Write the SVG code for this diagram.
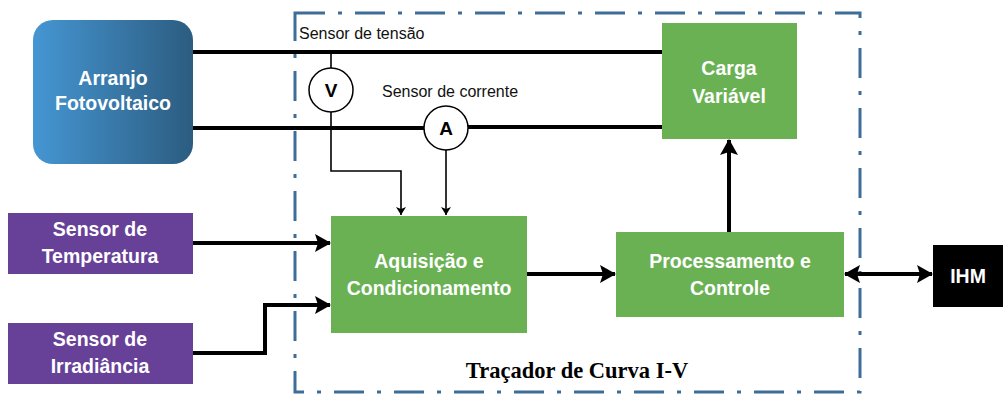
<svg xmlns="http://www.w3.org/2000/svg" width="1003" height="394" viewBox="0 0 1003 394">
<defs>
<linearGradient id="pvg" x1="0" y1="0" x2="1" y2="0">
<stop offset="0" stop-color="#4596d3"/>
<stop offset="1" stop-color="#2c5c80"/>
</linearGradient>
<marker id="ah" markerUnits="userSpaceOnUse" markerWidth="16" markerHeight="18" viewBox="0 0 16 18" refX="15" refY="9" orient="auto-start-reverse">
<path d="M0,0 L16,9 L0,18 L3,9 Z" fill="#000"/>
</marker>
<marker id="as" markerUnits="userSpaceOnUse" markerWidth="8" markerHeight="10" viewBox="0 0 8 10" refX="8" refY="5" orient="auto">
<path d="M0,0 L8,5 L0,10 L2,5 Z" fill="#000"/>
</marker>
</defs>
<style>
.lbl{font-family:"Liberation Sans",Arial,sans-serif;font-weight:bold;fill:#fff;font-size:19.5px;text-anchor:middle}
.sm{font-family:"Liberation Sans",Arial,sans-serif;font-size:16px;fill:#111}
.green{fill:#6ab154}
.purple{fill:#674198}
.thick{stroke:#000;stroke-width:4;fill:none}
.thin{stroke:#000;stroke-width:1.6;fill:none}
.meter{fill:#fff;stroke:#000;stroke-width:1.5}
.mtxt{font-family:"Liberation Sans",Arial,sans-serif;font-weight:bold;font-size:19px;fill:#000;text-anchor:middle}
</style>
<rect width="1003" height="394" fill="#fff"/>
<g id="boundary">
<rect x="295" y="13" width="565" height="379" fill="none" stroke="#3e6e98" stroke-width="3" stroke-dasharray="30 13 4 13"/>
<text x="577" y="378" font-family="'Liberation Serif','Times New Roman',serif" font-weight="bold" font-size="22.5" text-anchor="middle" fill="#000">Traçador de Curva I-V</text>
</g>
<g id="connectors">
<line class="thick" x1="193" y1="52" x2="662" y2="52"/>
<line class="thick" x1="193" y1="128" x2="425" y2="128"/>
<line class="thick" x1="468" y1="127" x2="662" y2="127"/>
<line class="thin" x1="331" y1="52" x2="331" y2="68"/>
<polyline class="thin" points="331,112 331,171 401,171 401,215" marker-end="url(#as)"/>
<line class="thin" x1="446" y1="150" x2="446" y2="215" marker-end="url(#as)"/>
<line class="thick" x1="193" y1="243" x2="330" y2="243" marker-end="url(#ah)"/>
<polyline class="thick" points="193,353 265,353 265,305 330,305" marker-end="url(#ah)"/>
<line class="thick" x1="527" y1="274" x2="615" y2="274" marker-end="url(#ah)"/>
<line class="thick" x1="729" y1="232" x2="729" y2="140" marker-end="url(#ah)"/>
<line class="thick" x1="845" y1="274" x2="932" y2="274" marker-start="url(#ah)" marker-end="url(#ah)"/>
</g>
<g id="arranjo">
<rect x="33" y="20" width="160" height="144" rx="20" fill="url(#pvg)"/>
<text class="lbl" x="113" y="85">Arranjo</text>
<text class="lbl" x="113" y="110">Fotovoltaico</text>
</g>
<g id="sensor-tensao">
<text class="sm" x="299" y="39">Sensor de tensão</text>
<circle class="meter" cx="331" cy="90" r="22"/>
<text class="mtxt" x="331" y="97">V</text>
</g>
<g id="sensor-corrente">
<text class="sm" x="382" y="97">Sensor de corrente</text>
<circle class="meter" cx="446" cy="128" r="22"/>
<text class="mtxt" x="446" y="135">A</text>
</g>
<g id="carga">
<rect class="green" x="662" y="23" width="135" height="116"/>
<text class="lbl" x="729" y="75">Carga</text>
<text class="lbl" x="729" y="103">Variável</text>
</g>
<g id="sensor-temperatura">
<rect class="purple" x="8" y="213" width="185" height="61"/>
<text class="lbl" x="100" y="236">Sensor de</text>
<text class="lbl" x="100" y="263">Temperatura</text>
</g>
<g id="sensor-irradiancia">
<rect class="purple" x="8" y="323" width="185" height="61"/>
<text class="lbl" x="100" y="346">Sensor de</text>
<text class="lbl" x="100" y="373">Irradiância</text>
</g>
<g id="aquisicao">
<rect class="green" x="331" y="216" width="196" height="117"/>
<text class="lbl" x="429" y="268">Aquisição e</text>
<text class="lbl" x="429" y="295">Condicionamento</text>
</g>
<g id="processamento">
<rect class="green" x="616" y="232" width="228" height="85"/>
<text class="lbl" x="730" y="268">Processamento e</text>
<text class="lbl" x="730" y="295">Controle</text>
</g>
<g id="ihm">
<rect x="933" y="245" width="70" height="62" fill="#000"/>
<text class="lbl" x="968" y="283">IHM</text>
</g>
</svg>
